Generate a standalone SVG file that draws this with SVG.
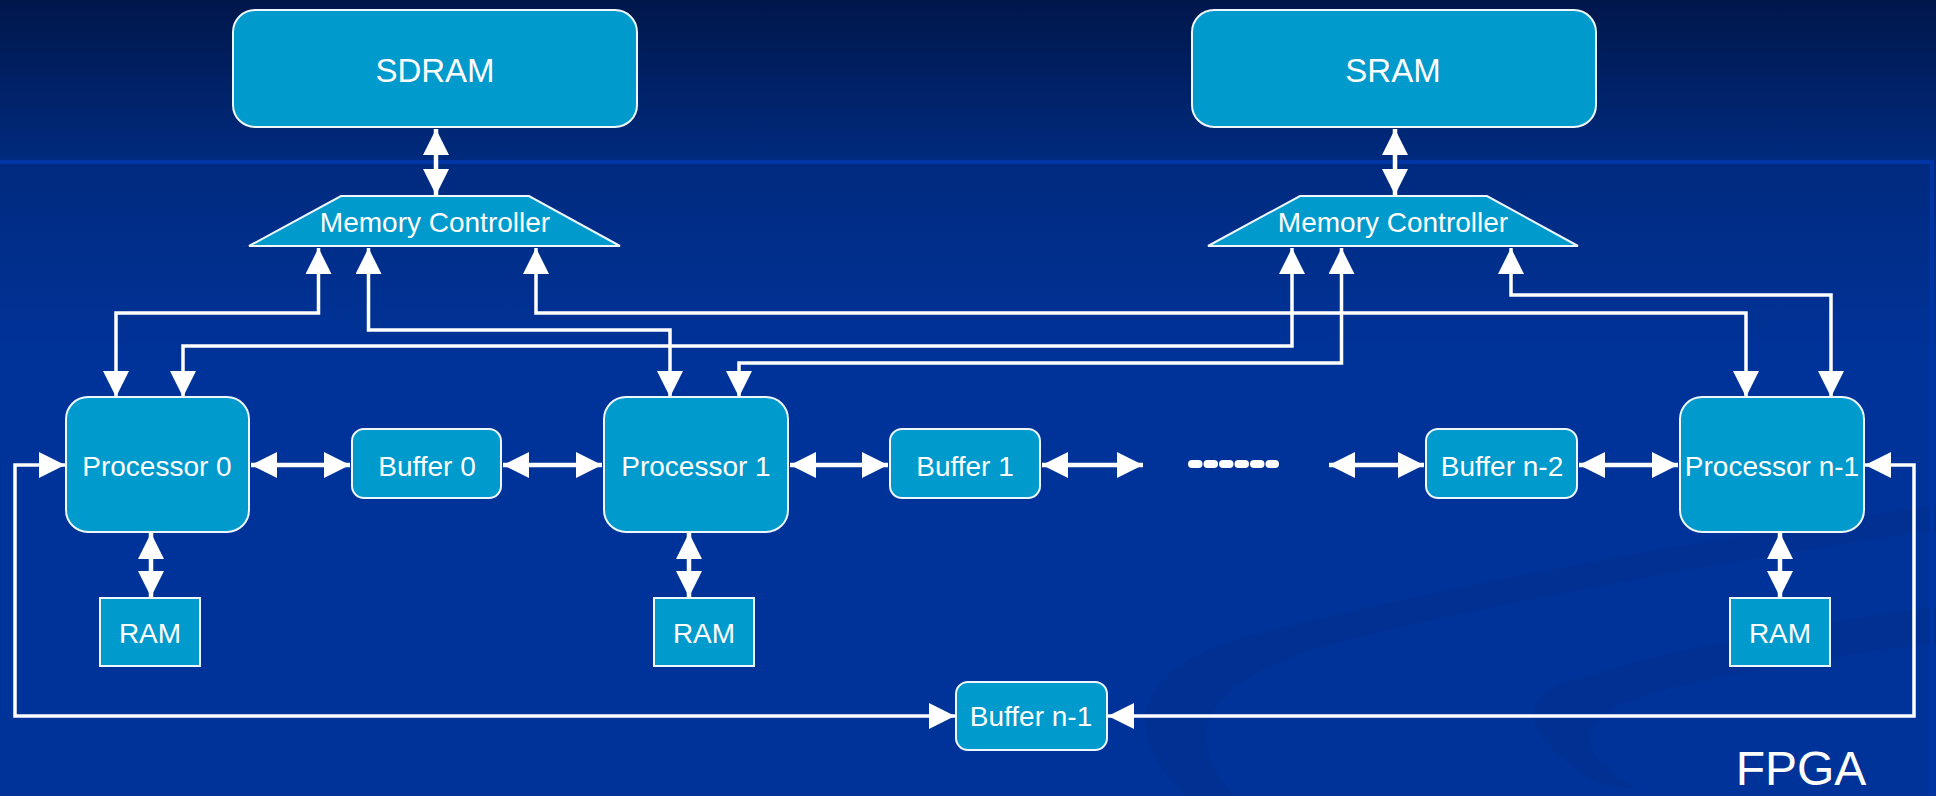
<svg xmlns="http://www.w3.org/2000/svg" width="1936" height="796" viewBox="0 0 1936 796">
<defs>
<linearGradient id="bg" x1="0" y1="0" x2="0" y2="796" gradientUnits="userSpaceOnUse">
<stop offset="0" stop-color="#00174a"/>
<stop offset="0.2" stop-color="#002a7e"/>
<stop offset="0.45" stop-color="#003399"/>
<stop offset="1" stop-color="#003399"/>
</linearGradient>
<marker id="ah" markerUnits="userSpaceOnUse" markerWidth="26" markerHeight="26" viewBox="0 0 26 26" refX="26" refY="13" orient="auto-start-reverse">
<path d="M0,0 L26,13 L0,26 Z" fill="#ffffff"/>
</marker>
</defs>
<style>
.node{fill:#009acd;stroke:#eef7fc;stroke-width:2}
.lbl{font-family:"Liberation Sans",Arial,sans-serif;fill:#ffffff;text-anchor:middle}
.big{font-size:33px}
.mid{font-size:28px}
.con{fill:none;stroke:#ffffff;stroke-width:3.5;marker-start:url(#ah);marker-end:url(#ah)}
.short{stroke-width:4.5}
.swoosh{fill:#002d8c;opacity:0.55}
</style>
<rect x="0" y="0" width="1936" height="796" fill="url(#bg)"/>
<path class="swoosh" d="M1185,796 C1120,730 1130,665 1260,633 C1450,585 1700,540 1936,505 L1936,530 C1700,565 1460,610 1330,645 C1200,680 1180,740 1235,796 Z"/>
<path class="swoosh" d="M1596,783 C1520,735 1520,700 1560,685 C1660,650 1800,625 1936,607 L1936,643 C1800,660 1680,680 1620,705 C1575,725 1580,760 1640,790 Z"/>
<rect x="0" y="160" width="1934" height="4" fill="#0035a6"/>
<rect x="1930" y="160" width="4" height="636" fill="#0035a6"/>
<g id="connectors">
<path class="con short" d="M436,129 V195"/>
<path class="con short" d="M1395,129 V195"/>
<path class="con" d="M318.5,248 V313 H116 V397"/>
<path class="con" d="M368.5,248 V330 H670 V397"/>
<path class="con" d="M536,248 V313 H1746 V397"/>
<path class="con" d="M1292,248 V346 H183 V397"/>
<path class="con" d="M1341.5,248 V363 H739 V397"/>
<path class="con" d="M1511,248 V295 H1831 V397"/>
<path class="con short" d="M251,465 H350"/>
<path class="con short" d="M503,465 H602"/>
<path class="con short" d="M790,465 H888"/>
<path class="con short" d="M1042,465 H1143"/>
<path class="con short" d="M1329,465 H1424"/>
<path class="con short" d="M1579,465 H1678"/>
<path class="con short" d="M151,533 V597"/>
<path class="con short" d="M689,533 V597"/>
<path class="con short" d="M1780,533 V597"/>
<path class="con" d="M955,716 H15 V465 H65"/>
<path class="con" d="M1108,716 H1914 V465 H1865"/>
</g>
<g id="sdram"><rect class="node" x="233" y="10" width="404" height="117" rx="22"/><text class="lbl big" x="435" y="82">SDRAM</text></g>
<g id="sram"><rect class="node" x="1192" y="10" width="404" height="117" rx="22"/><text class="lbl big" x="1393" y="82">SRAM</text></g>
<g id="mc-left"><polygon class="node" points="341,196 529,196 620,246 249,246"/><text class="lbl mid" x="435" y="232">Memory Controller</text></g>
<g id="mc-right"><polygon class="node" points="1300,196 1487,196 1578,246 1208,246"/><text class="lbl mid" x="1393" y="232">Memory Controller</text></g>
<g id="proc0"><rect class="node" x="66" y="397" width="183" height="135" rx="22"/><text class="lbl mid" x="157" y="476">Processor 0</text></g>
<g id="proc1"><rect class="node" x="604" y="397" width="184" height="135" rx="22"/><text class="lbl mid" x="696" y="476">Processor 1</text></g>
<g id="procn1"><rect class="node" x="1680" y="397" width="184" height="135" rx="22"/><text class="lbl mid" x="1772" y="476">Processor n-1</text></g>
<g id="buf0"><rect class="node" x="352" y="429" width="149" height="69" rx="12"/><text class="lbl mid" x="427" y="476">Buffer 0</text></g>
<g id="buf1"><rect class="node" x="890" y="429" width="150" height="69" rx="12"/><text class="lbl mid" x="965" y="476">Buffer 1</text></g>
<g id="bufn2"><rect class="node" x="1426" y="429" width="151" height="69" rx="12"/><text class="lbl mid" x="1502" y="476">Buffer n-2</text></g>
<g id="bufn1"><rect class="node" x="956" y="682" width="151" height="68" rx="12"/><text class="lbl mid" x="1031" y="726">Buffer n-1</text></g>
<g id="ram0"><rect class="node" x="100" y="598" width="100" height="68"/><text class="lbl mid" x="150" y="643">RAM</text></g>
<g id="ram1"><rect class="node" x="654" y="598" width="100" height="68"/><text class="lbl mid" x="704" y="643">RAM</text></g>
<g id="ramn1"><rect class="node" x="1730" y="598" width="100" height="68"/><text class="lbl mid" x="1780" y="643">RAM</text></g>
<g id="ellipsis" fill="#ffffff">
<rect x="1188" y="460" width="14.5" height="8" rx="4"/>
<rect x="1203.5" y="460" width="14.5" height="8" rx="4"/>
<rect x="1219" y="460" width="14.5" height="8" rx="4"/>
<rect x="1234.5" y="460" width="14.5" height="8" rx="4"/>
<rect x="1250" y="460" width="14.5" height="8" rx="4"/>
<rect x="1265.5" y="460" width="13.5" height="8" rx="4"/>
</g>
<g id="fpga"><text class="lbl" x="1801" y="785" style="font-size:48px">FPGA</text></g>
</svg>
